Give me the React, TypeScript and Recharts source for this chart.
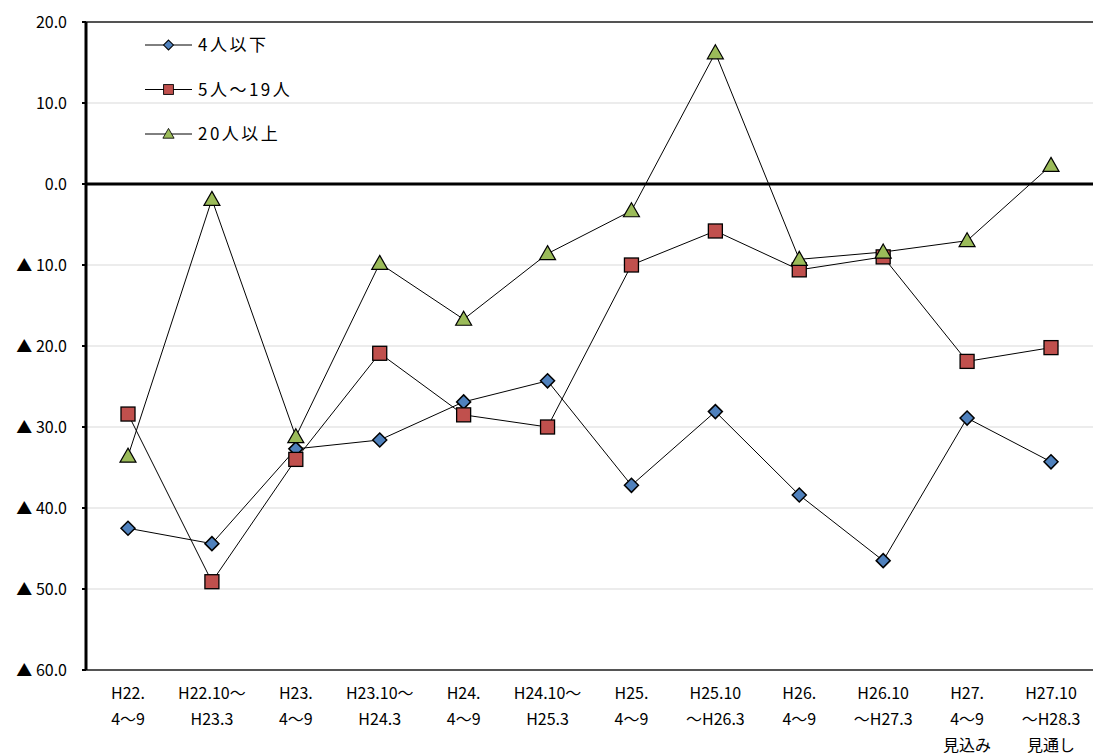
import React from 'react';
import { LineChart, Line, XAxis, YAxis, CartesianGrid, ReferenceLine, Customized } from 'recharts';

const periods = [
  'H22.|4～9',
  'H22.10～|H23.3',
  'H23.|4～9',
  'H23.10～|H24.3',
  'H24.|4～9',
  'H24.10～|H25.3',
  'H25.|4～9',
  'H25.10|～H26.3',
  'H26.|4～9',
  'H26.10|～H27.3',
  'H27.|4～9|見込み',
  'H27.10|～H28.3|見通し',
];

const small = [-42.5, -44.4, -32.7, -31.6, -26.9, -24.3, -37.2, -28.1, -38.4, -46.5, -28.9, -34.3];
const medium = [-28.4, -49.1, -34.0, -20.9, -28.5, -30.0, -10.0, -5.8, -10.6, -9.0, -21.9, -20.2];
const large = [-33.6, -1.9, -31.2, -9.8, -16.7, -8.6, -3.3, 16.2, -9.3, -8.4, -7.0, 2.3];

const yTicks = [20, 10, 0, -10, -20, -30, -40, -50, -60];

const FONT = '"Noto Sans CJK JP", "Noto Sans", sans-serif';

const data = periods.map((p, i) => ({ period: p, small: small[i], medium: medium[i], large: large[i] }));

const BLUE = '#4f81bd';
const RED = '#c0504d';
const GREEN = '#9bbb59';

function Marker({ kind, cx, cy }: { kind: string; cx: number; cy: number }) {
  if (kind === 'diamond') {
    const r = 7;
    return (
      <polygon
        points={`${cx},${cy - r} ${cx + r},${cy} ${cx},${cy + r} ${cx - r},${cy}`}
        fill={BLUE}
        stroke="#000"
        strokeWidth={1.5}
      />
    );
  }
  if (kind === 'square') {
    return <rect x={cx - 7} y={cy - 7} width={14} height={14} fill={RED} stroke="#000" strokeWidth={1.3} />;
  }
  return (
    <polygon
      points={`${cx},${cy - 8} ${cx + 8},${cy + 6} ${cx - 8},${cy + 6}`}
      fill={GREEN}
      stroke="#000"
      strokeWidth={1.2}
    />
  );
}

const dotFor = (kind: string) => (props: any) => {
  const { cx, cy, index } = props;
  if (cx == null || cy == null) return <g key={index} />;
  return <Marker key={`${kind}-${index}`} kind={kind} cx={cx} cy={cy} />;
};

const legendItems = [
  { label: '4人以下', kind: 'diamond' },
  { label: '5人～19人', kind: 'square' },
  { label: '20人以上', kind: 'triangle' },
];

function LegendBox() {
  return (
    <g transform="translate(145 37)">
      {legendItems.map((it, i) => {
        const y = 8 + i * 44.5;
        const s = 0.7;
        return (
          <g key={it.label}>
            <line x1={0} x2={47} y1={y} y2={y} stroke="#000" strokeWidth={1} />
            <g transform={`translate(23.5 ${y}) scale(${s}) translate(-23.5 ${-y})`}>
              <Marker kind={it.kind} cx={23.5} cy={y} />
            </g>
            <text x={53} y={y + 6} fontSize={17} letterSpacing={2.5} fontFamily={FONT} fill="#000">
              {it.label}
            </text>
          </g>
        );
      })}
    </g>
  );
}

function XTick(props: any) {
  const { x, y, payload } = props;
  const lines = String(payload.value).split('|');
  return (
    <g transform={`translate(${x},${y})`}>
      {lines.map((l, i) => (
        <text key={i} x={0} y={21 + i * 26} textAnchor="middle" fontSize={16} fontFamily={FONT} fill="#000">
          {l}
        </text>
      ))}
    </g>
  );
}

function YTick(props: any) {
  const { x, y, payload } = props;
  const v = payload.value as number;
  const label = v < 0 ? `▲ ${Math.abs(v).toFixed(1)}` : v.toFixed(1);
  return (
    <text x={x - 13} y={y + 6} textAnchor="end" fontSize={16} fontFamily={FONT} fill="#000">
      {label}
    </text>
  );
}

export default function App() {
  return (
    <div style={{ position: 'absolute', left: 0, top: 0, width: 1093, height: 756, background: '#fff' }}>
      <LineChart width={1093} height={756} data={data} margin={{ top: 22, right: 0, bottom: 0, left: 0 }}>
        <CartesianGrid horizontal vertical={false} stroke="#d9d9d9" strokeWidth={1} />
        <XAxis
          dataKey="period"
          interval={0}
          height={86}
          padding={{ left: 42, right: 42 }}
          tick={<XTick />}
          tickLine={false}
          axisLine={{ stroke: '#555', strokeWidth: 2 }}
        />
        <YAxis
          type="number"
          domain={[-60, 20]}
          ticks={yTicks}
          width={86}
          tick={<YTick />}
          tickLine={{ stroke: '#000', strokeWidth: 2 }}
          tickSize={4}
          axisLine={{ stroke: '#000', strokeWidth: 3 }}
        />
        <ReferenceLine y={20} stroke="#222" strokeWidth={1.5} />
        <ReferenceLine y={0} stroke="#000" strokeWidth={3} />
        <Customized component={LegendBox} />
        <Line dataKey="small" stroke="#000" strokeWidth={1} dot={dotFor('diamond')} isAnimationActive={false} />
        <Line dataKey="medium" stroke="#000" strokeWidth={1} dot={dotFor('square')} isAnimationActive={false} />
        <Line dataKey="large" stroke="#000" strokeWidth={1} dot={dotFor('triangle')} isAnimationActive={false} />
      </LineChart>
    </div>
  );
}
